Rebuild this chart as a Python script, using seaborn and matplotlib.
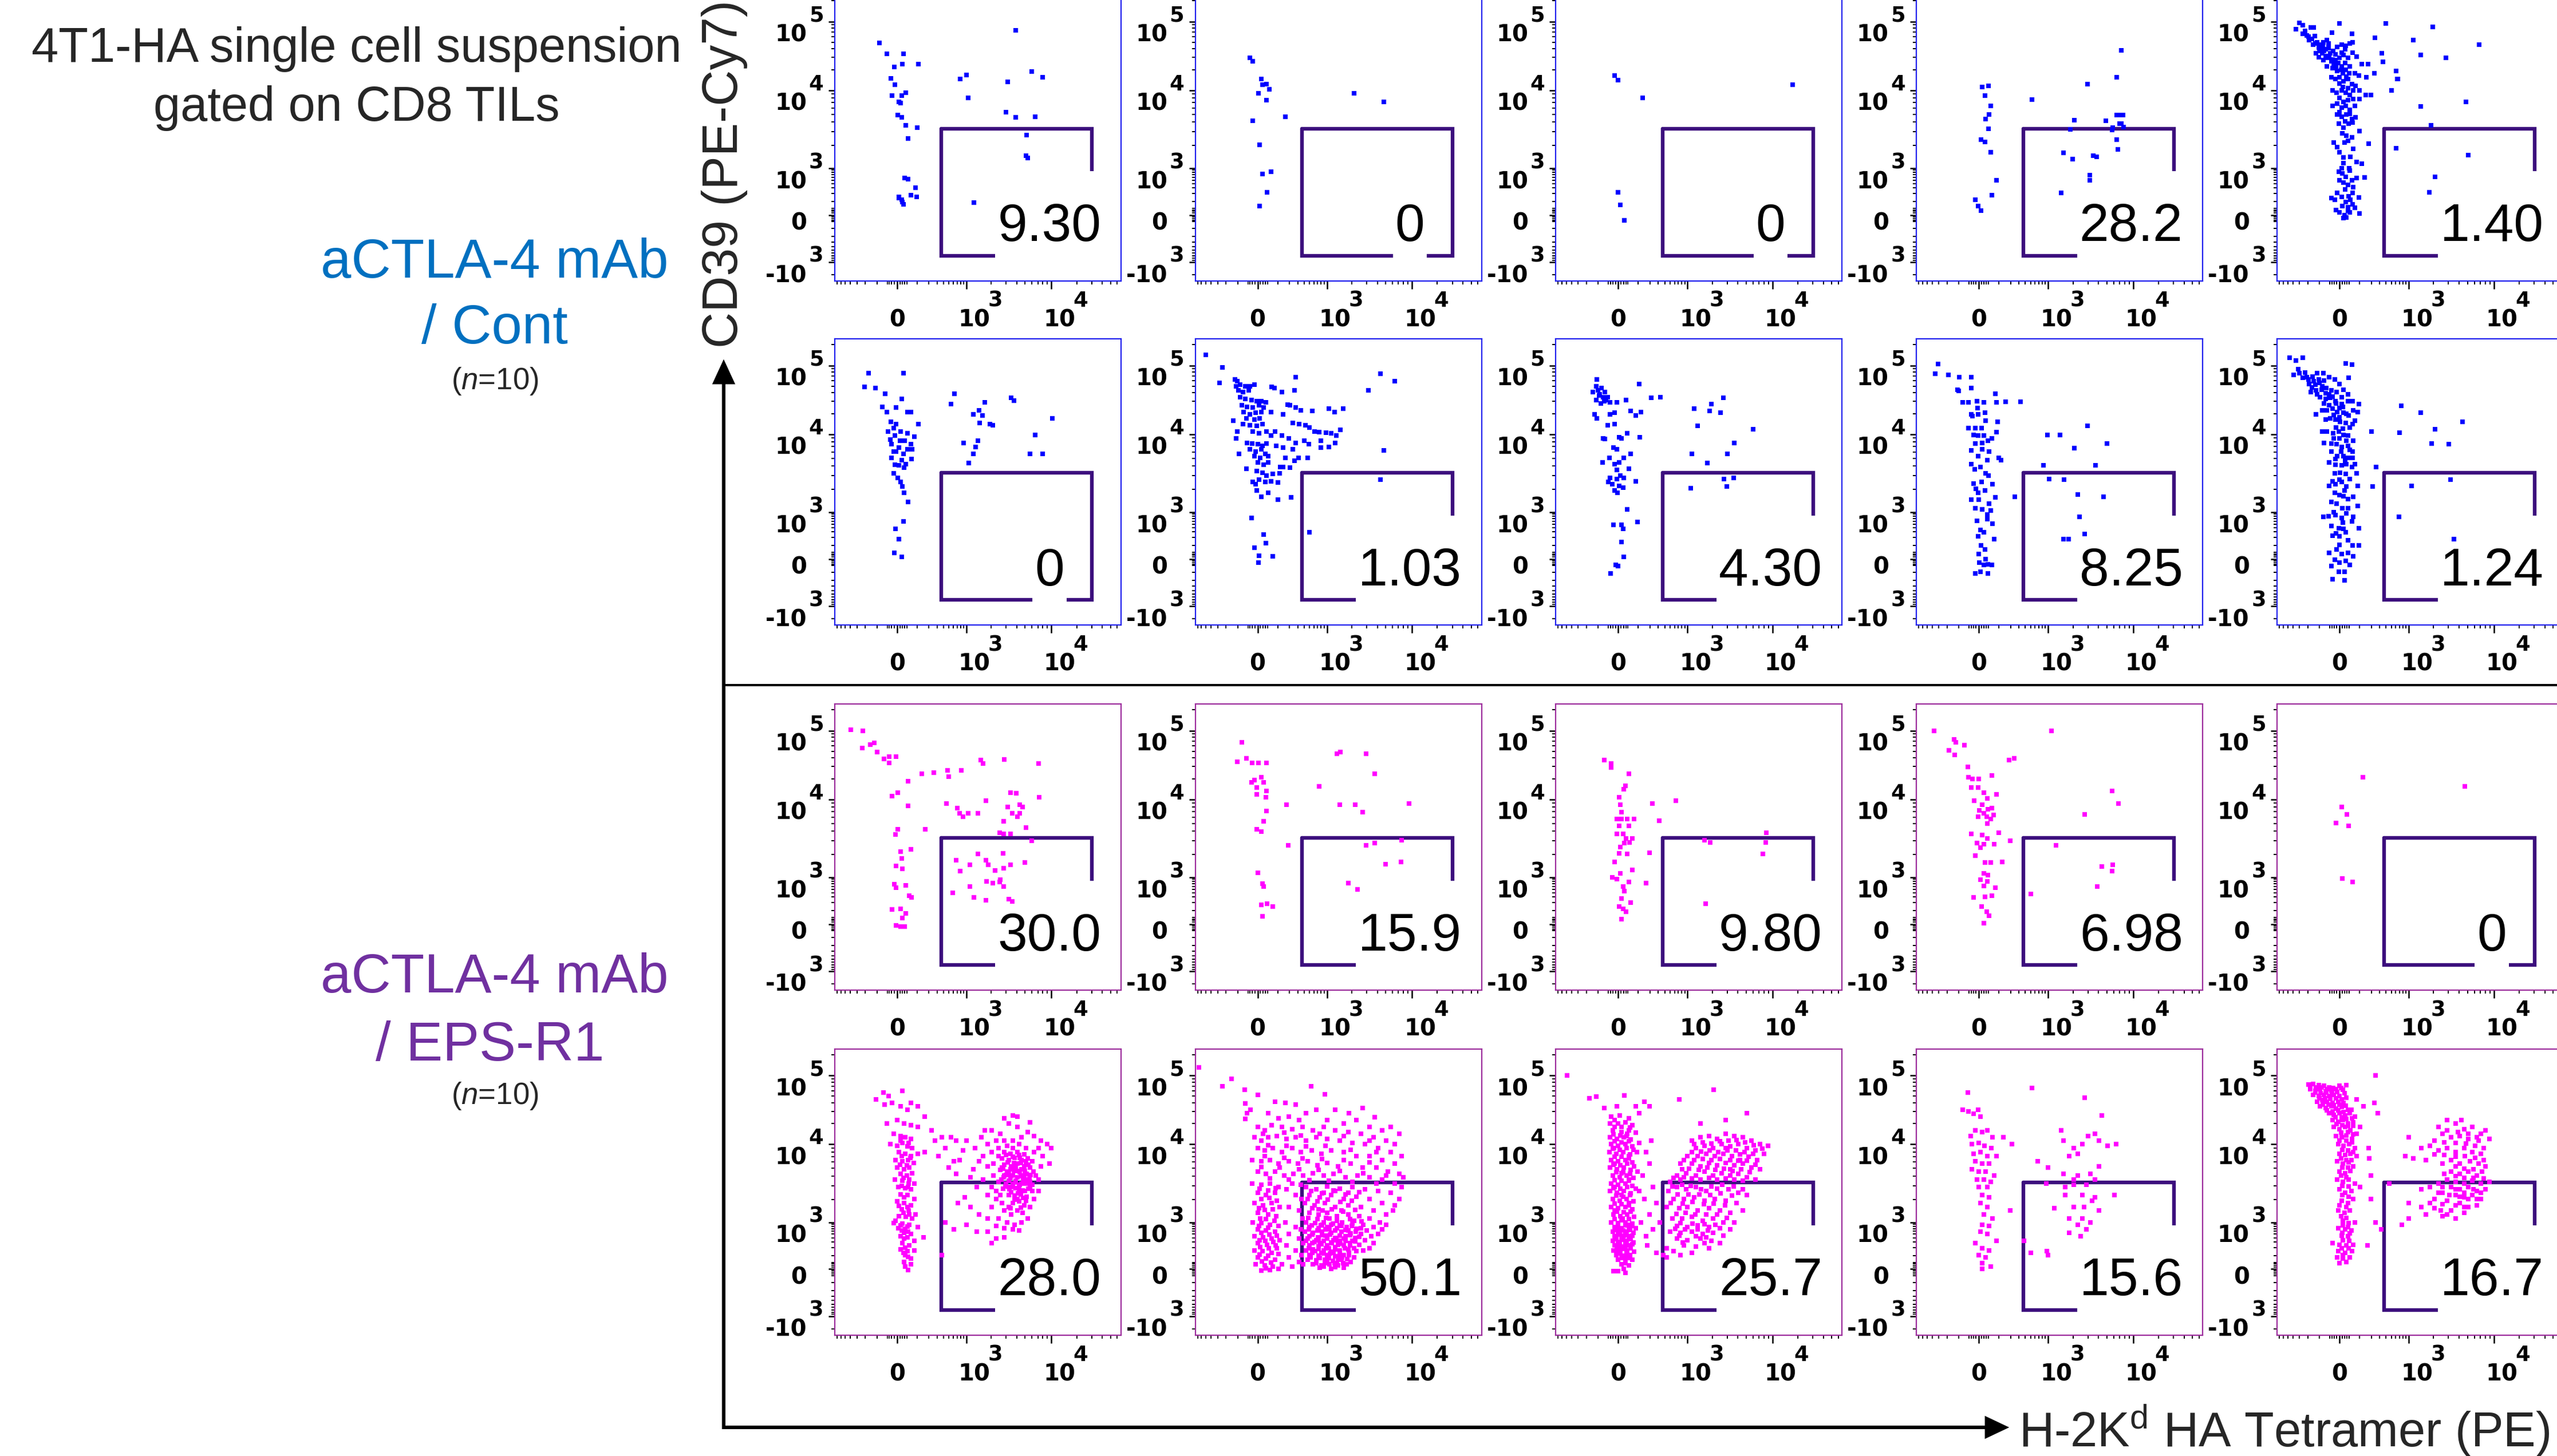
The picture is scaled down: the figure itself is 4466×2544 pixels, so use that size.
import numpy as np
import pandas as pd
import matplotlib
matplotlib.use("Agg")
from matplotlib import pyplot as plt
from matplotlib.patches import Rectangle, Polygon
from matplotlib.transforms import blended_transform_factory, offset_copy
import seaborn as sns


# ---- Data --------------------------------------------------------------------
# One entry per event: (H-2Kd HA tetramer, CD39), read in display decades of the
# biexponential axes: 0 = zero, 1 = 10^3, 2 = 10^4, 3 = 10^5, -1 = -10^3.

ctrl_1 = [(-0.25,2.69),(-0.15,2.53),(0.09,2.53),(-0.04,2.34),(0.08,2.38),(0.31,2.38),(-0.09,2.17),(-0.03,2.08),(-0.07,1.93),(0.07,1.93),(0.13,1.97),(0.03,1.85),(0.05,1.84),(0.01,1.68),(0.07,1.65),(0.13,1.55),(0.29,1.52),(0.16,1.38),(0.11,0.79),(0.16,0.77),(0.27,0.58),(0.2,0.42),(0.28,0.39),(0.03,0.39),(0.07,0.33),(0.09,0.23),(0.08,0.28),(0.03,0.36),(1.58,2.87),(0.91,2.16),(1.0,2.22),(1.02,1.90),(1.49,2.12),(1.77,2.27),(1.9,2.19),(1.47,1.72),(1.58,1.65),(1.81,1.66),(1.71,1.43),(1.7,1.16),(1.72,1.13),(1.09,0.26)]

ctrl_2 = [(-0.11,2.47),(-0.07,2.42),(0.05,2.16),(0.13,2.09),(0.17,2.01),(0.07,2.08),(0.01,1.96),(0.13,1.87),(0.4,1.66),(-0.07,1.61),(0.03,1.30),(0.19,0.93),(0.07,0.88),(0.14,0.48),(0.03,0.19),(1.32,1.96),(1.67,1.85)]

ctrl_3 = [(-0.05,2.21),(0.0,2.15),(0.35,1.90),(2.24,2.08),(0.0,0.48),(0.03,0.21),(0.09,-0.11)]

ctrl_4 = [(0.05,2.05),(0.14,2.06),(0.09,1.93),(0.17,1.80),(0.15,1.69),(0.1,1.63),(0.14,1.51),(0.03,1.37),(0.09,1.34),(0.17,1.21),(0.25,0.75),(0.19,0.43),(-0.05,0.33),(-0.01,0.19),(0.03,0.09),(0.77,1.88),(1.31,1.62),(1.26,1.50),(1.46,2.09),(1.81,2.19),(1.86,2.58),(1.68,1.61),(1.75,1.49),(1.81,1.68),(1.85,1.68),(1.88,1.68),(1.84,1.57),(1.86,1.57),(1.81,1.37),(1.82,1.24),(1.18,1.20),(1.29,1.12),(1.53,1.16),(1.57,1.15),(1.49,0.86),(1.49,0.75),(1.15,0.47),(1.89,1.53),(1.76,1.52)]

ctrl_5 = [(-0.63,2.89),(-0.58,2.98),(-0.53,2.95),(-0.47,2.80),(-0.53,2.82),(-0.41,2.91),(-0.37,2.91),(-0.36,2.79),(-0.44,2.73),(-0.38,2.66),(-0.32,2.70),(-0.28,2.66),(-0.23,2.70),(-0.18,2.73),(-0.11,2.84),(0.0,2.97),(0.18,2.82),(-0.34,2.54),(-0.29,2.57),(-0.25,2.54),(-0.2,2.60),(-0.16,2.61),(-0.13,2.54),(-0.09,2.57),(-0.03,2.63),(0.03,2.66),(0.09,2.65),(0.15,2.68),(0.19,2.70),(-0.23,2.44),(-0.18,2.47),(-0.12,2.42),(-0.06,2.44),(0.0,2.47),(0.06,2.51),(0.12,2.47),(0.19,2.55),(0.25,2.49),(0.32,2.38),(0.41,2.38),(-0.18,2.35),(-0.1,2.32),(-0.03,2.28),(0.03,2.35),(0.09,2.30),(0.15,2.35),(0.22,2.25),(0.28,2.21),(0.39,2.19),(0.5,2.25),(0.61,2.54),(0.63,2.41),(0.67,2.97),(0.51,2.76),(0.82,2.28),(0.83,2.16),(-0.12,2.19),(-0.06,2.16),(0.0,2.19),(0.06,2.13),(0.12,2.16),(0.18,2.09),(0.23,2.06),(0.29,2.0),(0.38,1.94),(0.45,1.94),(-0.1,2.0),(-0.04,1.97),(0.03,2.0),(0.09,1.97),(0.15,1.94),(0.2,1.89),(0.29,1.89),(-0.1,1.80),(-0.03,1.83),(0.03,1.78),(0.09,1.80),(0.15,1.75),(0.22,1.80),(-0.03,1.69),(0.03,1.66),(0.1,1.69),(0.18,1.63),(0.23,1.65),(-0.01,1.57),(0.06,1.52),(0.13,1.57),(0.19,1.59),(0.29,1.48),(-0.08,1.33),(-0.03,1.27),(0.07,1.33),(0.12,1.35),(0.18,1.40),(0.42,1.32),(0.0,1.21),(0.06,1.14),(0.16,1.15),(0.25,1.08),(0.32,1.06),(0.06,1.07),(-0.01,0.93),(0.04,0.89),(0.09,0.82),(0.15,0.95),(0.25,0.79),(0.36,0.81),(0.0,0.75),(0.06,0.70),(0.12,0.65),(0.18,0.75),(0.19,0.47),(-0.03,0.47),(-0.12,0.36),(-0.07,0.33),(0.03,0.39),(0.09,0.28),(0.16,0.33),(0.28,0.37),(0.04,0.19),(0.12,0.17),(0.19,0.23),(0.0,0.05),(0.07,0.0),(0.12,0.09),(0.29,0.03),(0.06,-0.07),(0.1,-0.05),
          (0.75,2.0),(0.84,2.16),(1.05,2.73),(1.14,1.79),(1.14,2.51),(1.28,2.92),(1.44,2.47),(1.83,2.66),(1.67,1.85),(1.26,1.55),(0.82,1.26),(1.31,0.82),(1.24,0.48),(1.70,1.17),
          (-0.5,2.86),(-0.45,2.78),(-0.4,2.75),(-0.35,2.68),(-0.3,2.62),(-0.27,2.58),(-0.22,2.57),(-0.2,2.5),(-0.15,2.48),(-0.1,2.45),(-0.08,2.38),(-0.05,2.35),(-0.02,2.4),(0.02,2.3),(0.05,2.25),(0.08,2.4),(0.1,2.2),(0.14,2.25),(0.0,2.1),(0.05,2.05),(0.12,2.03),(0.2,2.0),(0.0,1.9),(0.06,1.85),(0.12,1.87),(0.0,1.72),(0.08,1.6),(0.15,1.7),(0.04,1.45),(0.1,1.42),(0.2,1.25),(0.03,1.0),(0.14,1.0),(0.2,0.6),(0.08,0.55),(0.13,0.4),(0.22,0.15),(-0.05,0.1),(0.15,0.05),(-0.3,2.48),(-0.24,2.64),(-0.16,2.68),(-0.06,2.52),(0.03,2.55),(0.08,2.6)]

ctrl_6 = [(-0.41,2.89),(0.09,2.89),(-0.47,2.69),(-0.31,2.67),(-0.17,2.59),(0.07,2.51),(-0.21,2.40),(-0.01,2.39),(-0.15,2.32),(0.15,2.32),(0.20,2.32),(0.78,2.44),(0.83,2.59),(1.22,2.46),(1.15,2.35),(1.08,2.29),(1.19,2.27),(1.16,2.16),(1.28,2.15),(1.31,2.13),(1.53,2.53),(1.56,2.49),(2.01,2.23),(1.81,1.99),(1.75,1.75),(1.90,1.75),(0.96,1.89),(1.14,1.92),(1.11,1.84),(1.08,1.75),(1.03,1.63),(-0.09,2.18),(-0.01,2.15),(-0.05,2.09),(-0.13,2.04),(0.05,2.04),(0.15,2.01),(0.25,1.97),(-0.03,1.98),(0.04,1.92),(0.11,1.92),(-0.08,1.87),(0.2,1.87),(0.03,1.83),(0.15,1.81),(0.22,1.81),(-0.01,1.78),(0.09,1.75),(0.21,1.68),(-0.08,1.70),(-0.03,1.61),(0.03,1.60),(0.1,1.57),(-0.05,1.50),(0.01,1.44),(0.05,1.39),(0.08,1.33),(0.1,1.25),(0.16,1.13),(0.09,0.80),(-0.02,0.64),(0.03,0.43),(-0.04,0.13),(0.07,0.04),(0.31,2.15),(-0.1,1.93),(-0.05,1.78),(0.07,1.67),(0.13,1.62)]

ctrl_7 = [(-0.75,3.15),(-0.51,2.97),(-0.55,2.75),(-0.33,2.80),(-0.29,2.77),(-0.31,2.70),(-0.25,2.72),(-0.18,2.70),(-0.11,2.70),(-0.05,2.72),(-0.28,2.64),(-0.21,2.61),(-0.13,2.64),(0.2,2.69),(0.24,2.67),(0.35,2.61),(0.55,2.83),(0.53,2.64),(1.63,2.88),(1.8,2.77),(1.49,2.64),(-0.25,2.54),(-0.18,2.51),(-0.09,2.50),(-0.01,2.48),(0.05,2.48),(0.12,2.46),(-0.23,2.42),(-0.15,2.40),(-0.07,2.39),(0.02,2.42),(0.09,2.39),(-0.2,2.32),(-0.11,2.29),(-0.03,2.31),(0.05,2.32),(-0.16,2.23),(-0.05,2.21),(0.03,2.23),(-0.21,2.15),(-0.11,2.13),(-0.01,2.12),(0.07,2.15),(0.13,2.04),(0.19,1.98),(-0.07,2.04),(0.02,2.01),(-0.15,1.89),(-0.08,1.88),(0.0,1.87),(0.07,1.85),(0.13,1.88),(-0.11,1.81),(-0.03,1.78),(0.05,1.81),(0.11,1.75),(-0.05,1.72),(0.04,1.70),(0.15,1.72),(0.0,1.64),(0.09,1.61),(0.15,1.64),(-0.01,1.53),(0.07,1.51),(0.13,1.47),(0.22,1.49),(0.02,1.42),(0.11,1.39),(0.19,1.40),(-0.03,1.36),(0.32,1.50),(0.29,1.38),(0.37,1.58),(0.47,1.57),(0.29,1.16),(0.48,1.19),(0.33,1.58),(0.19,2.32),(0.37,2.29),(0.43,2.43),(0.47,2.42),(0.55,2.39),(0.62,2.35),(0.79,2.34),(1.02,2.37),(1.09,2.32),(1.19,2.37),(0.51,2.16),(0.6,2.15),(0.69,2.13),(0.75,2.10),(0.82,2.04),(0.89,2.03),(0.99,2.02),(1.05,2.01),(1.11,1.98),(1.16,2.06),(0.25,2.04),(0.35,1.98),(0.45,1.95),(0.55,1.89),(0.67,1.92),(0.74,1.87),(0.91,1.92),(1.02,1.84),(1.1,1.89),(0.27,1.85),(0.37,1.83),(0.51,1.81),(0.59,1.70),(0.72,1.70),(0.91,1.83),(0.53,1.66),(0.4,1.70),(-0.09,0.88),(0.09,0.52),(-0.05,0.24),(0.12,0.34),(0.02,0.07),(0.22,0.06),(0.01,-0.08),(0.75,0.57),(1.63,1.42),(1.67,1.79),(-0.35,2.2),(-0.29,2.04),(-0.31,1.95),(-0.27,1.75),(-0.16,1.56),(-0.07,1.39),(-0.01,1.28),(0.05,1.20),(0.15,1.25)]

ctrl_8 = [(-0.31,2.80),(-0.32,2.70),(-0.37,2.61),(-0.29,2.64),(-0.24,2.67),(-0.19,2.61),(-0.27,2.58),(-0.22,2.54),(-0.32,2.50),(-0.15,2.54),(-0.2,2.48),(-0.12,2.46),(-0.02,2.46),(0.11,2.50),(0.3,2.73),(0.48,2.53),(0.61,2.54),(-0.34,2.29),(-0.31,2.23),(-0.12,2.29),(-0.05,2.31),(0.18,2.34),(0.25,2.27),(0.33,2.32),(-0.15,2.13),(-0.05,2.15),(-0.22,1.95),(-0.19,1.94),(0.01,1.96),(0.05,1.95),(0.13,2.01),(0.31,1.96),(-0.07,1.83),(-0.02,1.81),(-0.13,1.70),(0.08,1.70),(-0.23,1.64),(-0.05,1.62),(0.01,1.64),(0.18,1.75),(-0.02,1.54),(0.15,1.56),(-0.12,1.44),(-0.02,1.43),(0.03,1.47),(0.08,1.44),(-0.14,1.39),(-0.09,1.36),(0.01,1.34),(0.07,1.32),(-0.05,1.28),(-0.01,1.25),(0.25,1.40),(0.13,1.04),(-0.07,0.73),(0.05,0.73),(0.07,0.64),(0.05,0.36),(0.08,0.04),(-0.04,-0.13),(0.0,-0.15),(-0.11,-0.31),(0.28,0.79),(-0.28,2.56),(-0.18,2.50),(-0.25,2.45),
          (1.08,2.37),(1.12,2.12),(1.26,2.34),(1.28,2.44),(1.42,2.53),(1.39,2.31),(1.77,2.07),(1.55,1.89),(1.47,1.75),(1.05,1.75),(1.23,1.63),(1.04,1.31),(1.43,1.43),(1.54,1.44),(1.46,1.33)]

ctrl_9 = [(-0.59,3.02),(-0.63,2.88),(-0.44,2.86),(-0.28,2.83),(-0.11,2.83),(-0.31,2.65),(-0.29,2.63),(-0.11,2.67),(-0.23,2.46),(-0.15,2.46),(-0.03,2.48),(0.07,2.46),(0.24,2.59),(0.25,2.46),(0.39,2.47),(0.6,2.47),(-0.11,2.29),(-0.09,2.26),(-0.01,2.29),(0.09,2.31),(0.27,2.18),(-0.15,2.09),(-0.05,2.09),(0.04,2.09),(0.25,2.03),(-0.08,1.99),(-0.01,1.98),(0.07,1.98),(0.19,1.95),(-0.05,1.88),(0.05,1.89),(0.13,1.92),(-0.11,1.79),(0.05,1.81),(0.15,1.78),(-0.01,1.72),(0.12,1.67),(0.29,1.70),(0.32,1.67),(-0.11,1.62),(0.02,1.58),(0.14,1.47),(-0.08,1.37),(0.04,1.39),(0.2,1.36),(-0.01,1.25),(0.09,1.28),(-0.11,1.16),(0.0,1.16),(0.15,1.11),(0.24,1.19),(-0.05,1.05),(0.05,1.04),(0.17,1.02),(-0.03,0.82),(0.12,0.85),(0.2,0.76),(0.02,0.62),(0.07,0.57),(-0.01,0.48),(0.22,0.43),(0.03,0.29),(0.09,0.2),(0.01,-0.08),(0.07,-0.13),(0.13,-0.11),(0.19,-0.13),(-0.05,-0.31),(0.02,-0.27),(0.13,-0.31),(-0.02,2.38),(0.1,2.2),(-0.06,1.55),(0.1,1.5),(-0.04,1.3),(0.12,0.95),(0.0,0.1),(0.1,0.0),
          (0.99,1.99),(1.14,1.99),(1.46,2.12),(1.31,1.82),(1.69,1.88),(0.93,1.6),(1.56,1.6),(1.01,1.43),(1.19,1.42),(0.52,1.2),(1.35,1.23),(1.65,1.2),(1.37,0.9),(1.18,0.43),(1.24,0.43),(1.43,0.54)]

ctrl_10 = [(-0.72,3.11),(-0.63,3.07),(-0.53,3.11),(-0.66,2.86),(-0.58,2.89),(-0.53,2.82),(-0.47,2.83),(-0.39,2.84),(-0.32,2.89),(-0.23,2.89),(-0.44,2.73),(-0.37,2.77),(-0.29,2.75),(-0.22,2.78),(-0.15,2.83),(-0.07,2.80),(0.0,2.73),(0.06,2.65),(0.09,3.03),(0.18,3.01),(0.13,2.82),(-0.41,2.61),(-0.34,2.64),(-0.26,2.65),(-0.19,2.67),(-0.12,2.64),(-0.04,2.61),(0.03,2.54),(-0.28,2.54),(-0.2,2.51),(-0.13,2.53),(-0.06,2.48),(0.03,2.44),(0.12,2.48),(0.19,2.48),(0.28,2.44),(0.2,2.35),(0.26,2.32),(-0.34,2.29),(-0.25,2.35),(-0.18,2.35),(-0.1,2.37),(-0.03,2.32),(0.06,2.31),(0.13,2.27),(-0.2,2.21),(-0.13,2.23),(-0.06,2.21),(0.01,2.18),(0.09,2.16),(0.19,2.15),(-0.25,2.04),(-0.18,2.04),(-0.09,2.01),(-0.01,2.04),(0.06,1.99),(0.12,1.98),(0.2,1.92),(-0.22,1.89),(-0.12,1.88),(-0.04,1.87),(0.03,1.84),(0.12,1.85),(0.19,1.78),(-0.12,1.78),(-0.03,1.72),(0.06,1.72),(0.12,1.70),(0.19,1.70),(-0.15,1.64),(-0.06,1.61),(0.03,1.60),(0.1,1.62),(0.18,1.58),(-0.07,1.50),(0.01,1.51),(0.09,1.49),(0.25,1.50),(-0.15,1.34),(-0.06,1.36),(0.03,1.39),(0.1,1.33),(0.26,1.34),(-0.07,1.25),(0.0,1.22),(0.06,1.21),(0.12,1.17),(-0.12,1.13),(-0.04,1.11),(0.04,1.05),(0.12,1.05),(0.26,1.08),(-0.23,0.90),(-0.16,0.92),(-0.06,0.94),(0.03,0.88),(-0.12,0.71),(-0.01,0.66),(0.06,0.64),(0.18,0.80),(0.28,0.66),(-0.1,0.50),(0.0,0.48),(0.09,0.57),(0.19,0.29),(0.28,0.29),(-0.15,0.13),(-0.04,0.20),(0.03,0.10),(0.12,0.13),(-0.07,-0.02),(0.0,-0.08),(0.09,-0.04),(0.15,-0.13),(-0.01,-0.27),(0.07,-0.27),(-0.1,-0.43),(0.07,-0.45),
           (0.46,2.04),(0.53,1.58),(0.48,1.33),(0.87,2.02),(0.89,2.41),(1.14,2.31),(1.31,2.07),(1.27,1.88),(1.47,1.87),(1.63,2.18),(1.03,1.34),(1.49,1.42),(0.86,0.91),(1.53,0.43),
           (-0.6,2.95),(-0.5,2.9),(-0.45,2.8),(-0.35,2.72),(-0.3,2.8),(-0.25,2.7),(-0.2,2.6),(-0.15,2.58),(-0.1,2.55),(-0.05,2.45),(0.0,2.38),(0.05,2.4),(0.1,2.3),(-0.08,2.28),(0.0,2.25),(0.15,2.1),(-0.05,2.1),(0.05,2.08),(0.0,1.95),(0.1,1.92),(-0.08,1.95),(0.15,1.8),(0.02,1.78),(-0.06,1.68),(0.08,1.66),(0.22,1.62),(0.0,1.42),(0.15,1.43),(-0.1,1.4),(0.07,1.28),(0.2,1.2),(-0.08,1.0),(0.1,0.98),(0.2,0.9),(0.05,0.78),(-0.05,0.55),(0.12,0.4),(0.0,0.3),(0.2,0.05),(-0.12,-0.15),(-0.4,2.68),(-0.32,2.58),(-0.22,2.45),(-0.15,2.42),(0.12,2.58),(0.22,2.2)]

eps_1 = [(-0.67,3.01),(-0.49,3.0),(-0.5,2.75),(-0.39,2.8),(-0.33,2.82),(-0.29,2.69),(-0.19,2.59),(-0.11,2.53),(-0.11,2.62),(-0.01,2.62),(-0.07,2.05),(0.01,2.10),(0.16,2.26),(0.36,2.37),(0.53,2.39),(0.73,2.42),(0.75,2.33),(0.93,2.42),(0.71,1.95),(0.87,1.89),(0.9,1.82),(0.95,1.78),(1.02,1.82),(1.14,1.82),(1.23,1.98),(1.17,2.57),(1.2,2.52),(1.45,2.58),(1.85,2.52),(1.86,2.03),(1.52,2.10),(1.59,2.09),(1.63,1.93),(1.66,1.90),(1.49,1.90),(1.44,1.72),(1.54,1.82),(1.6,1.78),(1.63,1.82),(1.7,1.64),(1.77,1.47),(0.16,1.92),(0.01,1.62),(-0.02,1.55),(0.41,1.62),(0.05,1.33),(0.07,1.24),(0.08,1.11),(0.2,1.36),(-0.04,0.85),(-0.01,0.78),(0.13,0.83),(0.18,0.61),(0.21,0.57),(-0.07,0.31),(0.05,0.33),(0.13,0.23),(0.08,0.13),(-0.01,-0.03),(0.05,-0.05),(0.11,-0.05),(-0.01,1.15),
         (0.85,1.22),(1.04,1.16),(1.14,1.30),(1.23,1.22),(1.26,1.16),(1.04,0.80),(1.09,0.57),(1.24,0.92),(1.31,0.88),(1.23,0.51),(1.39,0.90),(1.44,0.80),(1.43,1.31),(1.44,1.12),(1.52,1.16),(1.69,1.19),(1.5,0.54),(1.54,0.49),(0.8,0.67),(0.91,1.08),(1.34,1.09),(1.4,0.95),(1.44,1.56),(1.52,1.56),(1.39,1.57)]

eps_2 = [(-0.23,2.83),(-0.29,2.55),(-0.16,2.60),(-0.08,2.53),(0.01,2.53),(0.13,2.53),(0.05,2.32),(-0.05,2.28),(-0.09,2.25),(0.09,2.25),(-0.01,2.17),(0.13,2.12),(-0.01,2.07),(0.12,2.03),(0.13,1.85),(0.09,1.72),(-0.01,1.62),(0.05,1.59),(0.42,1.93),(0.44,1.41),(0.89,2.19),(1.12,2.66),(1.16,2.69),(1.46,2.66),(1.56,2.37),(1.15,1.93),(1.33,1.93),(1.42,1.84),(1.97,1.95),(1.46,1.41),(1.56,1.44),(1.88,1.48),(1.69,1.17),(1.87,1.20),(0.0,1.06),(0.07,0.87),(0.09,0.80),(0.05,0.41),(0.14,0.44),(0.22,0.38),(0.07,0.16),(1.25,0.88),(1.36,0.75)]

eps_3 = [(-0.2,2.57),(-0.1,2.52),(-0.1,2.46),(0.15,2.37),(0.08,2.15),(0.01,2.03),(0.03,1.93),(0.05,1.84),(-0.02,1.75),(0.05,1.75),(0.13,1.75),(0.23,1.75),(0.01,1.66),(0.15,1.66),(-0.02,1.56),(0.07,1.56),(0.11,1.50),(0.2,1.50),(0.03,1.39),(0.09,1.44),(0.16,1.45),(0.01,1.31),(0.13,1.30),(0.2,1.10),(-0.09,1.0),(-0.02,0.97),(0.03,1.05),(0.07,0.80),(0.09,0.71),(0.18,0.46),(0.01,0.38),(0.07,0.33),(0.11,0.26),(0.05,0.10),(0.49,1.95),(0.59,1.73),(0.45,1.32),(0.4,0.88),(0.83,1.98),(1.2,1.48),(1.27,1.45),(1.93,1.57),(1.92,1.45),(1.89,1.30),(1.21,0.44),(0.1,2.2),(-0.05,1.2),(0.15,0.9),(0.05,0.55)]

eps_4 = [(-0.65,3.0),(-0.36,2.87),(-0.33,2.83),(-0.21,2.79),(-0.43,2.71),(-0.35,2.65),(-0.16,2.47),(-0.15,2.32),(-0.09,2.30),(0.0,2.30),(0.19,2.35),(0.44,2.57),(0.51,2.60),(-0.11,2.17),(-0.01,2.17),(0.07,2.10),(0.25,2.07),(0.12,2.01),(-0.07,1.98),(0.05,1.93),(0.01,1.86),(0.13,1.87),(0.19,1.89),(0.07,1.82),(0.21,1.80),(0.11,1.78),(-0.01,1.78),(0.17,1.75),(0.12,1.69),(-0.11,1.56),(0.05,1.54),(0.29,1.57),(0.12,1.50),(0.45,1.47),(-0.03,1.44),(0.07,1.43),(0.22,1.43),(0.02,1.38),(0.34,1.20),(0.09,1.19),(0.17,1.19),(-0.05,1.28),(0.07,1.05),(0.13,1.03),(0.02,0.95),(0.12,0.92),(0.24,0.78),(0.07,0.82),(-0.08,0.57),(0.09,0.59),(0.19,0.61),(0.04,0.38),(0.11,0.26),(0.15,0.18),(0.07,0.02),
         (1.04,3.0),(1.75,2.12),(1.83,1.95),(1.43,1.81),(1.09,1.41),(1.63,1.14),(1.76,1.16),(1.75,1.08),(1.58,0.80),(0.75,0.64)]

eps_5 = [(0.34,2.32),(1.66,2.19),(0.03,1.9),(0.11,1.81),(-0.05,1.70),(0.13,1.66),(0.04,0.98),(0.19,0.90)]

eps_6 = [(-0.2,2.75),(-0.12,2.7),(0.08,2.78),(-0.07,2.6),(0.05,2.55),(0.15,2.5),(0.2,2.6),(-0.15,2.3),(0.0,2.35),(0.1,2.3),(0.2,2.28),(0.3,2.25),(-0.05,2.15),(0.05,2.12),(0.12,2.1),(0.2,2.08),(-0.1,2.0),(0.0,1.98),(0.08,2.02),(0.15,1.97),(0.22,1.95),(0.03,1.9),(0.12,1.88),(0.2,1.85),(-0.02,1.8),(0.08,1.78),(0.16,1.8),(0.24,1.76),(0.0,1.7),(0.1,1.68),(0.18,1.7),(0.05,1.62),(0.14,1.6),(0.22,1.63),(-0.03,1.55),(0.08,1.53),(0.17,1.5),(0.02,1.45),(0.12,1.44),(0.2,1.42),(0.05,1.36),(0.15,1.35),(0.25,1.3),(0.0,1.27),(0.1,1.25),(0.2,1.22),(0.07,1.17),(0.17,1.15),(0.03,1.08),(0.13,1.07),(0.22,1.05),(-0.05,0.98),(0.08,0.97),(0.18,0.95),(0.3,0.9),(0.02,0.88),(0.12,0.86),(0.1,0.78),(0.2,0.75),(0.05,0.7),(0.15,0.68),(0.25,0.6),(0.38,0.68),(0.08,0.55),(0.18,0.5),(0.05,0.42),(0.15,0.38),(0.25,0.4),(0.12,0.3),(0.2,0.22),(0.1,0.15),(0.2,0.1),(0.12,0.05),(0.16,-0.02),(-0.02,1.02),(0.27,1.1),(0.25,1.5),(0.3,1.88),
         (-0.3,2.65),(-0.18,2.58),(0.4,2.4),(0.3,2.55),(0.5,2.2),(0.55,2.05),(0.4,1.9),(0.6,1.85),(0.7,1.95),(0.65,2.1),(0.78,2.1),(0.85,2.05),(0.9,1.8),(0.95,1.92),(1.0,2.05),(0.75,1.7),(0.85,1.62),(0.82,1.78),
         (1.45,1.9),(1.52,1.88),(1.6,1.9),(1.68,1.87),(1.42,1.82),(1.5,1.8),(1.57,1.83),(1.65,1.8),(1.72,1.82),(1.78,1.78),(1.45,1.74),(1.53,1.72),(1.6,1.75),(1.68,1.72),(1.75,1.7),(1.4,1.67),(1.48,1.65),(1.56,1.66),(1.63,1.64),(1.71,1.62),(1.79,1.65),(1.44,1.58),(1.52,1.57),(1.6,1.58),(1.67,1.55),(1.74,1.57),(1.38,1.52),(1.47,1.5),(1.55,1.5),(1.63,1.48),(1.7,1.5),(1.78,1.48),(1.43,1.43),(1.51,1.42),(1.58,1.44),(1.66,1.41),(1.73,1.43),(1.5,1.35),(1.57,1.34),(1.64,1.36),(1.71,1.33),(1.55,1.25),(1.62,1.27),(1.68,1.22),(1.6,1.15),(1.66,1.12),(1.53,1.1),
         (1.3,2.2),(1.4,2.15),(1.5,2.3),(1.6,2.25),(1.55,2.42),(1.65,2.1),(1.72,2.18),(1.8,2.12),(1.88,2.05),(1.95,2.0),(1.85,1.95),(1.9,1.85),(1.82,1.6),(1.88,1.72),(1.85,1.4),(1.8,1.3),(1.75,1.2),(1.35,2.05),(1.25,2.0),(1.3,1.9),(1.38,1.95),(1.2,1.85),(1.15,1.78),(1.1,1.95),(1.25,1.72),(1.32,1.6),(1.2,1.55),(1.3,1.45),(1.12,1.45),(1.25,1.35),(1.35,1.3),(1.42,1.25),(1.3,1.2),(1.45,1.15),(1.38,1.05),(1.48,1.0),(1.57,0.95),(1.65,1.0),(1.72,1.05),(1.55,0.85),(1.62,0.82),(1.45,0.88),(1.35,0.92),(1.25,1.05),(1.15,1.1),(1.05,1.2),(1.0,0.95),(1.12,0.8),(1.25,0.8),(1.35,0.65),(1.45,0.68),(1.3,0.55),(0.98,1.32),(1.05,1.58),(0.88,1.25),(0.82,0.85),(0.7,1.0),(0.65,0.3),(1.18,2.1),(1.45,2.05),(1.55,2.05),(1.62,2.0),(1.7,1.95),(1.48,1.98),(1.38,1.85),(1.32,1.75),(1.85,1.55),(1.8,1.9),(1.98,1.75),(2.0,1.95),(1.75,2.32),(1.6,2.4),(1.45,2.38),(1.22,2.2),(1.08,1.68),
         (1.42,1.7),(1.5,1.62),(1.58,1.7),(1.65,1.68),(1.7,1.76),(1.62,1.86),(1.55,1.95),(1.68,1.6),(1.58,1.53),(1.5,1.45),(1.62,1.42),(1.45,1.6),(1.75,1.52),(1.78,1.4),(1.35,1.4),(1.4,1.35),(1.6,1.3),(1.5,1.2),(1.7,1.28),(1.65,1.5),
         (1.47,1.86),(1.55,1.84),(1.63,1.83),(1.70,1.78),(1.49,1.77),(1.56,1.76),(1.64,1.76),(1.73,1.74),(1.43,1.69),(1.52,1.68),(1.60,1.66),(1.69,1.66),(1.76,1.61),(1.47,1.61),(1.55,1.60),(1.64,1.59),(1.71,1.55),(1.41,1.55),(1.50,1.53),(1.58,1.51),(1.67,1.52),(1.75,1.46),(1.46,1.46),(1.54,1.45),(1.62,1.46),(1.69,1.40),(1.53,1.39),(1.61,1.37),(1.67,1.31),(1.57,1.29),(1.64,1.19),(1.52,1.18),
         (0.05,2.05),(0.17,2.02),(0.07,1.85),(0.19,1.83),(0.04,1.74),(0.14,1.73),(0.09,1.57),(0.18,1.55),(0.07,1.47),(0.16,1.45),(0.1,1.32),(0.03,1.21),(0.15,1.2),(0.09,1.12),(0.18,1.1),(0.05,0.93),(0.15,0.91),(0.07,0.82),(0.16,0.8),(0.1,0.65),(0.12,0.46),(0.09,0.34),(0.16,0.26)]

eps_7 = [(-0.85,3.12),(-0.51,2.84),(-0.38,2.95),(-0.19,2.79),(-0.18,2.59),(-0.15,2.45),(-0.18,2.37),(-0.1,2.5),(0.0,2.72),(0.25,2.62),(0.4,2.6),(0.55,2.58),(0.77,2.84),(0.97,2.73),(1.42,2.53),(1.56,2.39),(1.26,2.45),(1.1,2.5),(0.85,2.5),(0.7,2.45),(0.6,2.35),(0.45,2.4),(0.3,2.38),(0.15,2.45),(1.0,2.35),(1.2,2.3),(1.35,2.35),(1.5,2.25),(1.65,2.2),(1.75,2.25),(1.85,2.15),
         (0.0,2.25),(0.1,2.2),(0.2,2.28),(0.35,2.25),(0.5,2.22),(0.65,2.25),(0.8,2.2),(0.95,2.25),(1.1,2.2),(1.25,2.18),(1.4,2.15),(1.55,2.1),(1.7,2.05),(1.8,2.0),
         (-0.05,2.1),(0.05,2.05),(0.15,2.1),(0.28,2.12),(0.42,2.08),(0.55,2.1),(0.7,2.05),(0.85,2.1),(1.0,2.08),(1.15,2.05),(1.3,2.02),(1.45,2.0),(1.6,1.95),(1.75,1.9),(1.88,1.85),
         (0.0,1.95),(0.1,1.92),(0.22,1.95),(0.35,1.9),(0.5,1.95),(0.62,1.9),(0.78,1.92),(0.92,1.88),(1.05,1.92),(1.2,1.9),(1.35,1.85),(1.5,1.85),(1.65,1.8),(1.8,1.75),
         (-0.08,1.8),(0.05,1.78),(0.18,1.8),(0.3,1.75),(0.45,1.78),(0.58,1.75),(0.72,1.78),(0.86,1.73),(1.0,1.76),(1.13,1.72),(1.28,1.75),(1.42,1.7),(1.58,1.7),(1.72,1.65),(1.85,1.62),
         (0.0,1.65),(0.12,1.62),(0.25,1.65),(0.38,1.6),(0.52,1.62),(0.66,1.6),(0.8,1.63),(0.95,1.6),(1.08,1.62),(1.22,1.58),(1.36,1.6),(1.5,1.58),(1.65,1.55),(1.8,1.5),(1.9,1.58),
         (-0.08,1.5),(0.05,1.48),(0.18,1.5),(0.3,1.45),(0.0,1.38),(0.12,1.35),(0.25,1.38),(-0.05,1.25),(0.08,1.22),(0.2,1.25),(0.32,1.2),(0.0,1.12),(0.15,1.1),(0.27,1.08),(-0.07,1.0),(0.05,0.98),(0.18,0.95),(0.3,0.92),(0.0,0.85),(0.12,0.82),(0.25,0.8),(-0.05,0.7),(0.08,0.68),(0.2,0.65),(0.32,0.62),(0.0,0.55),(0.14,0.52),(0.26,0.5),(-0.05,0.4),(0.07,0.38),(0.2,0.35),(0.3,0.32),(0.0,0.25),(0.12,0.22),(0.25,0.2),(-0.03,0.1),(0.1,0.08),(0.22,0.05),(0.35,0.1),(0.05,-0.03),(0.18,-0.02),(0.3,0.0),
         (0.42,1.42),(0.55,1.35),(0.45,1.2),(0.6,1.15),(0.4,1.0),(0.55,0.9),(0.45,0.75),(0.6,0.65),(0.42,0.5),(0.55,0.4),(0.45,0.25),(0.6,0.15),(0.5,0.05),(0.62,1.48),(0.5,1.5),
         (0.7,1.45),(0.85,1.42),(1.0,1.46),(1.15,1.43),(1.3,1.45),(1.45,1.42),(1.6,1.4),(1.75,1.38),
         (0.75,1.35),(0.9,1.32),(1.05,1.35),(1.2,1.3),(1.35,1.33),(1.5,1.3),(1.65,1.25),(1.8,1.22),
         (0.68,1.25),(0.82,1.22),(0.97,1.25),(1.1,1.2),(1.25,1.22),(1.4,1.2),(1.55,1.15),(1.7,1.1),
         (0.75,1.12),(0.88,1.1),(1.0,1.12),(1.12,1.08),(1.25,1.1),(1.38,1.08),(1.5,1.05),(1.62,1.0),
         (0.7,1.0),(0.83,0.98),(0.95,1.0),(1.07,0.97),(1.18,1.0),(1.3,0.97),(1.43,0.95),(1.55,0.9),
         (0.75,0.9),(0.88,0.88),(1.0,0.9),(1.12,0.87),(1.23,0.9),(1.35,0.86),(1.47,0.83),
         (0.68,0.8),(0.8,0.78),(0.93,0.8),(1.05,0.77),(1.17,0.8),(1.28,0.76),(1.4,0.75),(1.52,0.7),
         (0.75,0.7),(0.87,0.68),(1.0,0.7),(1.1,0.67),(1.22,0.7),(1.33,0.66),(1.45,0.62),
         (0.7,0.6),(0.82,0.58),(0.95,0.6),(1.05,0.57),(1.15,0.6),(1.27,0.56),(1.38,0.52),
         (0.75,0.5),(0.88,0.48),(1.0,0.5),(1.1,0.47),(1.2,0.5),(1.32,0.45),(1.43,0.4),
         (0.7,0.4),(0.83,0.38),(0.95,0.4),(1.05,0.37),(1.15,0.4),(1.26,0.35),
         (0.75,0.3),(0.88,0.28),(1.0,0.3),(1.1,0.27),(1.2,0.3),(1.32,0.25),
         (0.72,0.2),(0.85,0.18),(0.97,0.2),(1.07,0.17),(1.17,0.2),(1.28,0.15),
         (0.8,0.1),(0.92,0.08),(1.03,0.1),(1.13,0.07),(1.23,0.1),(0.9,0.02),(1.05,0.0),(1.2,0.02),
         (0.93,0.95),(1.03,0.85),(1.15,0.93),(1.25,0.82),(0.98,0.72),(1.08,0.62),(1.2,0.65),(0.9,0.55),(1.02,0.45),(1.13,0.52),(1.25,0.42),(0.95,0.33),(1.08,0.35),(1.18,0.25),(1.0,0.15),(1.12,0.12),(0.85,0.62),(0.8,0.42),(1.3,0.6),(1.4,0.88),(0.88,1.17),(1.03,1.05),(1.17,1.15),(1.32,1.02),(0.95,1.38),(1.1,1.4),(1.25,1.38),
         (1.65,0.85),(1.55,0.55),(1.6,0.75),(1.7,0.95),(1.78,1.15),(1.85,1.3),(1.88,1.45),(1.5,0.45),
         (0.63,1.3),(0.65,1.05),(0.62,0.85),(0.66,0.55),(0.63,0.3),(0.66,0.1),
         (0.77,1.40),(0.93,1.37),(1.08,1.41),(1.22,1.36),(1.38,1.39),(0.72,1.30),(0.86,1.27),(1.01,1.29),(1.16,1.26),(1.29,1.28),(0.79,1.18),(0.94,1.15),(1.06,1.17),(1.19,1.14),(1.33,1.16),(0.73,1.06),(0.86,1.04),(0.99,1.06),(1.12,1.02),(1.27,1.04),(1.41,1.01),(0.78,0.94),(0.91,0.93),(1.05,0.95),(1.17,0.92),(1.29,0.92),(0.74,0.85),(0.86,0.83),(0.98,0.85),(1.10,0.82),(1.22,0.84),(1.34,0.80),(0.79,0.74),(0.93,0.73),(1.04,0.74),(1.15,0.72),(1.27,0.73),(1.38,0.69),(0.72,0.65),(0.88,0.63),(1.00,0.65),(1.11,0.62),(1.22,0.61),(1.33,0.59),(0.79,0.55),(0.92,0.53),(1.06,0.55),(1.16,0.54),(1.27,0.50),(0.74,0.45),(0.88,0.43),(0.99,0.44),(1.10,0.42),(1.21,0.45),(1.35,0.38),(0.79,0.35),(0.92,0.34),(1.04,0.33),(1.15,0.32),(1.26,0.30),(0.76,0.25),(0.90,0.23),(1.02,0.24),(1.13,0.22),(1.24,0.21),(0.85,0.13),(0.97,0.12),(1.09,0.13),(1.19,0.12),(0.95,0.05),(1.10,0.04),
         (0.03,1.43),(0.15,1.41),(0.26,1.44),(0.05,1.30),(0.17,1.31),(0.28,1.28),(0.02,1.18),(0.1,1.16),(0.22,1.17),(0.04,1.05),(0.12,1.04),(0.24,1.02),(0.02,0.92),(0.15,0.89),(0.05,0.77),(0.17,0.74),(0.28,0.72),(0.03,0.62),(0.11,0.60),(0.23,0.58),(0.04,0.47),(0.16,0.45),(0.28,0.44),(0.03,0.31),(0.15,0.29),(0.06,0.16),(0.19,0.14),(0.12,0.01),
         (0.08,2.15),(0.38,2.17),(0.62,2.13),(0.9,2.15),(1.2,2.12),(1.5,2.05),(0.15,1.99),(0.42,1.98),(0.7,1.97),(0.98,1.98),(1.28,1.93),(1.58,1.9),(0.1,1.85),(0.38,1.83),(0.65,1.82),(0.93,1.81),(1.2,1.8),(1.5,1.77),(0.05,1.71),(0.32,1.70),(0.6,1.68),(0.88,1.67),(1.15,1.66),(1.43,1.63),(1.7,1.6),(0.18,1.56),(0.45,1.55),(0.75,1.54),(1.02,1.53),(1.3,1.52),(1.58,1.5)]

eps_8 = [(-0.74,3.0),(-0.42,2.67),(-0.32,2.69),(-0.2,2.53),(0.09,2.71),(-0.02,2.55),(0.38,2.62),(0.88,2.65),(1.31,2.79),(0.25,2.55),(0.45,2.55),(0.3,2.45),(1.15,2.3),(1.7,2.45),(1.45,2.35),
         (-0.1,2.4),(0.02,2.42),(0.15,2.38),(-0.12,2.3),(0.0,2.3),(0.1,2.32),(0.2,2.28),(-0.08,2.2),(0.05,2.18),(0.15,2.2),(0.25,2.17),(-0.12,2.1),(-0.02,2.08),(0.08,2.1),(0.18,2.07),(-0.1,2.0),(0.0,1.98),(0.1,2.0),(0.2,1.97),(0.3,2.02),(-0.13,1.9),(-0.03,1.88),(0.07,1.9),(0.17,1.87),(0.27,1.9),(-0.1,1.8),(0.0,1.78),(0.1,1.8),(0.2,1.77),(-0.12,1.7),(-0.02,1.68),(0.08,1.7),(0.18,1.67),(0.28,1.65),(-0.08,1.6),(0.02,1.58),(0.12,1.6),(0.22,1.57),(-0.1,1.5),(0.0,1.48),(0.1,1.5),(0.2,1.47),(-0.12,1.4),(-0.02,1.38),(0.08,1.4),(0.18,1.37),(0.3,1.4),(-0.08,1.3),(0.02,1.28),(0.12,1.3),(0.22,1.27),(-0.1,1.2),(0.0,1.18),(0.1,1.2),(0.2,1.17),(-0.07,1.1),(0.03,1.08),(0.13,1.1),(0.23,1.07),(-0.1,1.0),(0.0,0.98),(0.1,1.0),(0.2,0.97),(0.33,1.0),(-0.05,0.9),(0.05,0.88),(0.15,0.9),(0.25,0.87),(-0.08,0.8),(0.02,0.78),(0.12,0.8),(0.22,0.77),(-0.05,0.7),(0.05,0.68),(0.15,0.7),(0.4,0.7),(-0.08,0.6),(0.02,0.58),(0.12,0.6),(0.22,0.57),(-0.05,0.5),(0.05,0.48),(0.15,0.5),(-0.07,0.4),(0.03,0.38),(0.13,0.4),(0.23,0.37),(-0.03,0.3),(0.07,0.28),(0.17,0.3),(0.0,0.2),(0.1,0.18),(0.2,0.2),(0.05,0.1),(0.15,0.08),(0.08,0.0),(-0.07,-0.05),(0.0,-0.05),(0.1,-0.08),
         (-0.05,2.25),(0.12,2.12),(-0.06,1.95),(0.15,1.82),(-0.05,1.75),(0.05,1.63),(0.15,1.53),(-0.05,1.45),(0.05,1.35),(0.15,1.25),(-0.05,1.15),(0.06,1.05),(0.16,0.95),(-0.02,0.85),(0.08,0.72),(0.18,0.65),(0.0,0.55),(0.1,0.45),(0.0,0.35),(0.12,0.25),
         (0.4,1.9),(0.45,1.75),(0.35,1.6),(0.5,1.45),(0.38,1.3),(0.55,1.25),(0.45,1.1),(0.6,1.0),(0.5,0.85),(0.42,0.5),(0.55,0.35),(0.65,0.3),(0.7,0.45),(0.48,2.05),
         (1.05,2.05),(1.15,2.1),(1.25,2.12),(1.35,2.08),(1.45,2.15),(1.55,2.12),(1.65,2.1),(1.75,2.05),(1.85,2.0),(1.95,1.98),(1.1,1.95),(1.2,1.98),(1.3,1.95),(1.4,2.0),(1.5,1.97),(1.6,2.0),(1.7,1.95),(1.8,1.92),(1.9,1.88),(1.0,1.85),(1.12,1.85),(1.22,1.88),(1.32,1.85),(1.42,1.88),(1.52,1.85),(1.62,1.87),(1.72,1.84),(1.82,1.8),(0.9,1.75),(1.05,1.75),(1.15,1.72),(1.25,1.76),(1.35,1.73),(1.45,1.76),(1.55,1.73),(1.65,1.75),(1.75,1.7),(1.85,1.68),(0.85,1.6),(0.98,1.63),(1.1,1.6),(1.2,1.65),(1.3,1.6),(1.4,1.63),(1.5,1.6),(1.6,1.62),(1.7,1.58),(1.8,1.55),(0.75,1.52),(0.9,1.55),(1.5,1.68),(1.45,1.95),(1.62,1.8),
         (0.72,1.4),(0.85,1.45),(0.98,1.42),(1.1,1.45),(1.22,1.4),(1.35,1.43),(1.48,1.42),(1.6,1.38),(1.7,1.35),(0.8,1.3),(0.95,1.3),(1.08,1.32),(1.2,1.28),(1.32,1.3),(1.45,1.28),(1.58,1.25),(0.7,1.2),(0.88,1.18),(1.0,1.2),(1.12,1.15),(1.25,1.18),(1.38,1.15),(1.5,1.12),(1.65,1.15),(0.78,1.05),(0.92,1.05),(1.05,1.07),(1.18,1.02),(1.3,1.05),(1.42,1.0),(1.55,1.0),(0.85,0.92),(1.0,0.9),(1.12,0.93),(1.25,0.9),(1.38,0.88),(1.5,0.85),(0.75,0.8),(0.9,0.78),(1.05,0.8),(1.18,0.75),(1.3,0.78),(1.42,0.72),(0.85,0.65),(1.0,0.62),(1.15,0.65),(1.28,0.6),(1.38,0.55),(0.95,0.5),(1.1,0.48),(1.25,0.45),(0.8,0.38),(1.05,0.35),(0.7,0.25),(0.9,0.3),
         (-0.05,2.35),(0.05,2.25),(0.17,2.24),(-0.07,2.14),(0.03,2.13),(0.13,2.15),(-0.05,2.04),(0.05,2.03),(0.15,2.04),(-0.08,1.94),(0.02,1.93),(0.12,1.95),(0.22,1.93),(-0.05,1.84),(0.05,1.84),(0.15,1.85),(-0.07,1.74),(0.03,1.73),(0.13,1.75),(0.23,1.72),(-0.03,1.64),(0.07,1.64),(0.17,1.62),(-0.05,1.54),(0.05,1.53),(0.15,1.55),(-0.07,1.44),(0.03,1.43),(0.13,1.45),(0.25,1.43),(-0.03,1.34),(0.07,1.33),(0.17,1.35),(-0.05,1.24),(0.05,1.23),(0.15,1.22),(-0.02,1.14),(0.08,1.13),(0.18,1.14),(-0.05,1.04),(0.05,1.03),(0.15,1.04),(0.0,0.94),(0.1,0.93),(0.2,0.92),(-0.03,0.84),(0.07,0.83),(0.17,0.84),(0.0,0.74),(0.1,0.73),(0.2,0.72),(-0.03,0.64),(0.07,0.63),(0.17,0.64),(0.0,0.53),(0.1,0.54),(0.2,0.53),(-0.02,0.44),(0.08,0.43),(0.18,0.44),(0.02,0.33),(0.12,0.34),(0.05,0.24),(0.15,0.23),(0.1,0.12),
         (1.08,2.0),(1.18,2.03),(1.28,2.01),(1.38,2.04),(1.48,2.05),(1.58,2.06),(1.68,2.03),(1.78,1.99),(1.88,1.94),(1.05,1.9),(1.16,1.91),(1.26,1.92),(1.36,1.9),(1.47,1.92),(1.57,1.92),(1.67,1.9),(1.77,1.88),(0.95,1.8),(1.08,1.8),(1.18,1.81),(1.28,1.8),(1.38,1.81),(1.5,1.8),(1.6,1.79),(1.7,1.79),(1.8,1.74),(0.92,1.68),(1.02,1.69),(1.13,1.67),(1.23,1.7),(1.33,1.67),(1.43,1.69),(1.53,1.66),(1.63,1.68),(1.73,1.64),(0.8,1.57),(0.95,1.58),(1.05,1.56),(1.15,1.55),(1.25,1.57),(1.35,1.55),(1.45,1.56),(1.55,1.55),(1.65,1.53),(0.78,1.46),(0.92,1.48),(1.04,1.47),(1.16,1.42),(1.28,1.46),(1.41,1.48),(1.54,1.46),(1.65,1.42),(0.86,1.36),(1.01,1.36),(1.14,1.36),(1.27,1.35),(1.39,1.37),(1.52,1.34),(0.76,1.25),(0.93,1.24),(1.06,1.26),(1.19,1.23),(1.31,1.24),(1.44,1.22),(0.84,1.11),(0.97,1.12),(1.09,1.1),(1.22,1.1),(1.35,1.1),(1.46,1.06),(0.9,0.98),(1.06,0.97),(1.2,0.96),(1.33,0.95),(0.82,0.86),(0.96,0.85),(1.12,0.85),(1.24,0.83),(0.88,0.71),(1.1,0.7),(1.22,0.68),(0.93,0.57),(1.2,0.55)]

eps_9 = [(-0.16,2.75),(-0.23,2.5),(-0.15,2.48),(-0.08,2.44),(-0.01,2.5),(0.02,2.4),(-0.12,2.12),(-0.05,2.2),(0.05,2.18),(0.12,2.2),(0.2,2.1),(0.35,2.1),(0.48,2.0),(-0.1,2.0),(0.0,2.02),(0.08,1.98),(0.18,1.95),(-0.08,1.88),(0.02,1.9),(0.12,1.85),(0.25,1.85),(-0.05,1.78),(0.05,1.75),(0.15,1.75),(-0.1,1.68),(0.0,1.65),(0.1,1.65),(0.22,1.6),(-0.03,1.55),(0.07,1.55),(0.17,1.52),(0.0,1.45),(0.12,1.45),(0.05,1.35),(0.15,1.32),(0.02,1.25),(0.12,1.2),(0.07,1.1),(0.45,1.15),(0.2,1.05),(0.05,0.95),(0.15,0.92),(0.02,0.8),(0.12,0.75),(0.25,0.6),(-0.05,0.55),(0.05,0.45),(0.15,0.4),(0.0,0.3),(0.1,0.25),(0.05,0.12),(0.17,0.05),(0.05,0.0),
         (0.77,2.82),(1.43,2.68),(1.63,2.42),(1.18,2.05),(1.15,2.2),(1.3,1.95),(1.4,2.0),(1.47,2.12),(1.55,2.15),(1.6,2.05),(1.7,1.98),(1.8,2.0),(1.25,1.85),(1.35,1.88),(0.85,1.78),(1.0,1.7),(1.18,1.62),(1.35,1.6),(1.5,1.62),(1.6,1.72),(1.55,1.55),(0.97,1.5),(1.2,1.45),(1.3,1.48),(1.45,1.48),(1.4,1.35),(1.52,1.28),(1.2,1.35),(1.3,1.2),(1.42,1.2),(1.55,1.32),(1.6,1.15),(1.07,1.18),(1.25,1.05),(1.4,1.05),(1.5,1.0),(1.35,0.95),(1.25,0.78),(1.45,0.85),(1.38,0.7),(0.65,0.6),(0.75,0.35),(0.98,0.38),(1.0,0.3),(1.3,1.55),(1.78,1.35)]

eps_10 = [(-0.45,2.87),(-0.38,2.88),(-0.3,2.86),(-0.22,2.85),(-0.15,2.83),(0.0,2.85),(0.1,2.86),(-0.42,2.8),(-0.35,2.78),(-0.28,2.8),(-0.2,2.77),(-0.12,2.78),(-0.05,2.8),(0.05,2.79),(-0.38,2.72),(-0.3,2.7),(-0.22,2.72),(-0.15,2.7),(-0.08,2.72),(0.0,2.7),(0.1,2.68),(-0.32,2.62),(-0.25,2.64),(-0.18,2.62),(-0.1,2.6),(-0.02,2.62),(0.06,2.6),(0.25,2.65),(-0.28,2.55),(-0.2,2.53),(-0.12,2.55),(-0.05,2.52),(0.03,2.54),(0.12,2.5),(0.35,2.55),(0.5,2.6),(-0.15,2.45),(-0.08,2.43),(0.0,2.45),(0.08,2.42),(0.15,2.45),(0.22,2.4),(0.55,2.45),(0.52,3.0),(-0.1,2.35),(-0.02,2.33),(0.05,2.35),(0.12,2.3),(0.2,2.32),(0.3,2.25),
          (-0.08,2.25),(0.0,2.22),(0.08,2.25),(0.16,2.2),(0.25,2.15),(-0.05,2.12),(0.03,2.1),(0.1,2.13),(0.18,2.08),(-0.02,2.0),(0.06,1.98),(0.14,2.0),(0.22,1.95),(0.42,1.95),(0.0,1.88),(0.08,1.86),(0.16,1.88),(0.25,1.85),(-0.03,1.78),(0.05,1.75),(0.13,1.77),(0.2,1.72),(0.43,1.82),(0.0,1.65),(0.08,1.63),(0.16,1.66),(0.45,1.6),(-0.03,1.55),(0.05,1.52),(0.13,1.55),(0.22,1.5),(0.3,1.45),(0.0,1.42),(0.08,1.38),(0.17,1.4),(0.03,1.28),(0.12,1.25),(0.2,1.3),(-0.02,1.15),(0.07,1.12),(0.15,1.15),(0.05,1.02),(0.13,0.98),(0.22,1.0),(0.52,1.0),(-0.02,0.88),(0.08,0.85),(0.17,0.82),(0.03,0.72),(0.12,0.7),(-0.1,0.55),(0.0,0.52),(0.1,0.5),(0.2,0.52),(0.4,0.5),(-0.02,0.38),(0.08,0.35),(0.18,0.38),(-0.03,0.25),(0.05,0.22),(0.15,0.25),(0.0,0.12),(0.1,0.15),
          (1.0,2.1),(1.35,2.25),(1.45,2.35),(1.55,2.3),(1.65,2.22),(1.62,2.35),(1.75,2.25),(1.85,2.15),(1.9,2.2),(1.4,2.15),(1.5,2.1),(1.6,2.12),(1.7,2.08),(1.82,2.05),(1.95,2.08),(1.15,1.95),(1.25,1.98),(1.35,1.92),(1.45,1.95),(1.55,1.9),(1.65,1.95),(1.75,1.9),(1.85,1.88),(0.95,1.85),(1.05,1.82),(1.2,1.8),(1.5,1.8),(1.6,1.75),(1.72,1.78),(1.82,1.75),(1.9,1.72),(1.5,1.65),(1.6,1.62),(1.7,1.65),(1.8,1.6),(1.45,1.55),(1.55,1.52),(1.65,1.5),(1.75,1.53),(1.85,1.5),(1.95,1.52),(1.35,1.5),(1.5,1.45),(1.6,1.42),(1.7,1.45),(1.8,1.4),(1.9,1.42),(1.15,1.42),(1.25,1.45),(1.4,1.38),(1.55,1.35),(1.65,1.32),(1.75,1.35),(1.85,1.3),(1.3,1.3),(1.45,1.28),(1.6,1.25),(1.7,1.2),(1.8,1.22),(1.0,1.25),(1.15,1.2),(1.3,1.18),(1.5,1.15),(1.65,1.12),(1.2,1.1),(1.4,1.08),(1.55,1.05),(0.6,0.85),(0.9,0.95),(1.0,1.05),(0.72,1.5),(0.45,1.3),
          (-0.42,2.84),(-0.34,2.83),(-0.26,2.83),(-0.18,2.8),(-0.09,2.82),(0.02,2.82),(-0.35,2.75),(-0.27,2.74),(-0.19,2.75),(-0.11,2.74),(-0.03,2.76),(0.07,2.74),(-0.29,2.67),(-0.21,2.67),(-0.13,2.66),(-0.05,2.67),(0.03,2.65),(-0.24,2.58),(-0.16,2.58),(-0.08,2.57),(0.0,2.58),(0.09,2.56),(-0.18,2.49),(-0.1,2.48),(-0.02,2.49),(0.06,2.47),(0.17,2.5),(-0.06,2.39),(0.03,2.39),(0.1,2.37),(0.18,2.38),(-0.04,2.29),(0.04,2.28),(0.12,2.27),(0.2,2.27),(0.02,2.17),(0.12,2.18),(0.2,2.14),(0.0,2.05),(0.1,2.05),(0.18,2.03),(0.04,1.93),(0.12,1.92),(0.2,1.9),(0.02,1.82),(0.1,1.8),(0.17,1.8),(0.04,1.7),(0.12,1.7),(0.02,1.6),(0.1,1.58),(0.04,1.47),(0.13,1.46),(0.04,1.35),(0.13,1.33),(0.0,1.22),(0.1,1.2),(0.02,1.08),(0.1,1.06),(0.05,0.93),(0.12,0.9),(0.04,0.78),(0.15,0.76),(0.05,0.62),(0.14,0.6),(0.03,0.45),(0.13,0.44),(0.05,0.3),
          (1.45,2.2),(1.58,2.18),(1.7,2.15),(1.8,2.1),(1.3,2.05),(1.42,2.03),(1.55,2.02),(1.67,2.01),(1.78,1.98),(1.88,1.95),(1.3,1.87),(1.42,1.86),(1.55,1.84),(1.66,1.85),(1.78,1.83),(1.88,1.8),(1.4,1.75),(1.55,1.72),(1.65,1.69),(1.76,1.68),(1.86,1.65),(1.42,1.62),(1.55,1.59),(1.65,1.57),(1.76,1.57),(1.88,1.56),(1.4,1.45),(1.55,1.42),(1.65,1.38),(1.76,1.42),(1.85,1.38),(1.35,1.38),(1.48,1.35),(1.6,1.33),(1.7,1.3),(1.8,1.3),(1.4,1.23),(1.55,1.22),(1.65,1.2),(1.25,1.25),(1.38,1.15),(1.45,1.1)]

CTRL_EVENTS = [ctrl_1, ctrl_2, ctrl_3, ctrl_4, ctrl_5, ctrl_6, ctrl_7, ctrl_8, ctrl_9, ctrl_10]
EPS_EVENTS = [eps_1, eps_2, eps_3, eps_4, eps_5, eps_6, eps_7, eps_8, eps_9, eps_10]
CTRL_PCT = ["9.30", "0", "0", "28.2", "1.40", "0", "1.03", "4.30", "8.25", "1.24"]
EPS_PCT = ["30.0", "15.9", "9.80", "6.98", "0", "28.0", "50.1", "25.7", "15.6", "16.7"]

GATE_TET = (0.64, 2.48)     # tetramer+ CD39- gate, display decades
GATE_CD39 = (-0.87, 1.51)

# axis labels as (value, mantissa, exponent)
X_TICKS = [(0, "0", None), (1e3, "10", "3"), (1e4, "10", "4")]
Y_TICKS = [(-1e3, "-10", "3"), (0, "0", None), (1e3, "10", "3"), (1e4, "10", "4"), (1e5, "10", "5")]


# ---- Biexponential axes ------------------------------------------------------

W, H, DPI = 4466, 2544, 200
PANEL = 500                                   # panel size, px
DEC_VALUES = np.array([-1e3, 0, 1e3, 1e4, 1e5])
X_POS = [-12, 109, 230, 378.4, 526.8]         # where -10^3, 0, 10^3, 10^4, 10^5 sit (px)
Y_POS = [33, 115.5, 196.8, 333.3, 453.5]


def lmod(v):
    v = np.asarray(v, dtype=float)
    return np.sign(v) * np.log10(1 + np.abs(v) / 100)


def lmod_inv(u):
    u = np.asarray(u, dtype=float)
    return np.sign(u) * 100 * (10 ** np.abs(u) - 1)


DEC_U = lmod(DEC_VALUES)


def extend(a, b):
    a = np.asarray(a, dtype=float)
    b = np.asarray(b, dtype=float)
    lo = (b[1] - b[0]) / (a[1] - a[0])
    hi = (b[-1] - b[-2]) / (a[-1] - a[-2])
    return np.r_[a[0] - 10, a, a[-1] + 10], np.r_[b[0] - 10 * lo, b, b[-1] + 10 * hi]


def from_decades(t):
    a, b = extend([-1, 0, 1, 2, 3], DEC_U)
    return lmod_inv(np.interp(t, a, b))


def biex_functions(pos):
    u_ext, p_ext = extend(DEC_U, pos)
    fwd = lambda v: np.interp(lmod(v), u_ext, p_ext)
    inv = lambda p: lmod_inv(np.interp(p, p_ext, u_ext))
    return fwd, inv


X_FUN = biex_functions(X_POS)
Y_FUN = biex_functions(Y_POS)

MINOR = ([s * m * 10 for s in (1, -1) for m in (1, 2, 3, 4)]
         + [s * m * 100 for s in (1, -1) for m in range(1, 10)]
         + [s * m * 10 ** k for s in (1, -1) for k in (3, 4) for m in range(2, 10)]
         + [2e5, 3e5])


# ---- Plotting ----------------------------------------------------------------

sns.set_theme(style="white")
plt.rcParams["font.family"] = ["Liberation Sans", "DejaVu Sans"]
plt.rcParams.update({
    "mathtext.fontset": "custom",
    "mathtext.rm": "Liberation Sans",
    "mathtext.it": "Liberation Sans:italic",
    "mathtext.bf": "Liberation Sans:bold",
})

GATE_COLOR = "#3c0f7d"
TICK_FONT = dict(family="DejaVu Sans", fontweight="bold", color="black", clip_on=False)
COL_LEFT = [1457.7 + 629.85 * j for j in range(5)]
ROW_TOP = [-9, 592, 1230, 1832.6]

fig = plt.figure(figsize=(W / DPI, H / DPI), dpi=DPI)
labels = []


def tick_text(ax, x, y, s, base, dx, dy, size, **kw):
    tr = offset_copy(base, fig=ax.figure, x=dx, y=dy, units="dots")
    ax.text(x, y, s, transform=tr, fontsize=size, **TICK_FONT, **kw)


def draw_panel(ax, events, pct, dot_color, frame_color):
    tet, cd39 = zip(*events)
    df = pd.DataFrame({"tet": from_decades(tet), "cd39": from_decades(cd39)})

    ax.set_xscale("function", functions=X_FUN)
    ax.set_yscale("function", functions=Y_FUN)

    gx0, gx1 = from_decades(GATE_TET)
    gy0, gy1 = from_decades(GATE_CD39)
    ax.plot([gx0, gx1, gx1, gx0, gx0], [gy1, gy1, gy0, gy0, gy1], color=GATE_COLOR,
            lw=2.3, solid_joinstyle="miter", zorder=2)

    sns.scatterplot(data=df, x="tet", y="cd39", marker="s", s=8, color=dot_color,
                    linewidth=0, ax=ax, zorder=3, legend=False)
    ax.set_xlabel("")
    ax.set_ylabel("")

    # ticks first (set_ticks may widen the view), limits afterwards
    ax.set_xticks(MINOR, minor=True)
    ax.set_yticks(MINOR, minor=True)
    ax.set_xticks([v for v, _, _ in X_TICKS])
    ax.set_yticks([v for v, _, _ in Y_TICKS])
    ax.set_xlim(X_FUN[1](0), X_FUN[1](PANEL))
    ax.set_ylim(Y_FUN[1](0), Y_FUN[1](PANEL))

    ax.tick_params(axis="x", which="major", bottom=True, labelbottom=False, direction="out",
                   length=5, width=0.9, color="black")
    ax.tick_params(axis="y", which="major", left=True, labelleft=False, direction="out",
                   length=4, width=0.9, color="black")
    ax.tick_params(axis="both", which="minor", bottom=True, left=True, direction="out",
                   length=2.2, width=0.7, color="black")

    # FlowJo-style labels with large exponents
    bx = blended_transform_factory(ax.transData, ax.transAxes)
    by = blended_transform_factory(ax.transAxes, ax.transData)
    for v, mant, exp in X_TICKS:
        if exp is None:
            tick_text(ax, v, 0, mant, bx, 0, -79.5, 14.5, ha="center", va="baseline")
        else:
            tick_text(ax, v, 0, mant, bx, -14, -79.5, 14.5, ha="left", va="baseline")
            tick_text(ax, v, 0, exp, bx, 38, -45, 13.3, ha="left", va="baseline")
    for v, mant, exp in Y_TICKS:
        if exp is None:
            tick_text(ax, 0, v, mant, by, -48.5, -26, 14.5, ha="right", va="baseline")
        else:
            tick_text(ax, 0, v, mant, by, -48.5, -35, 14.5, ha="right", va="baseline")
            tick_text(ax, 0, v, exp, by, -45, 0, 13.3, ha="left", va="baseline")

    for spine in ax.spines.values():
        spine.set_color(frame_color)
        spine.set_linewidth(0.8)
    ax.grid(False)

    txt = ax.text(0.75, 69.5 / PANEL, pct, transform=ax.transAxes, ha="center",
                  va="baseline", fontsize=33.5, color="black", zorder=5)
    labels.append((ax, txt))


for g, (events, pcts, dot, frame) in enumerate([
        (CTRL_EVENTS, CTRL_PCT, "#0000ff", "#2020ee"),
        (EPS_EVENTS, EPS_PCT, "#ff00ff", "#9c2c9c")]):
    for i in range(10):
        r, c = 2 * g + i // 5, i % 5
        ax = fig.add_axes([COL_LEFT[c] / W, 1 - (ROW_TOP[r] + PANEL) / H, PANEL / W, PANEL / H])
        draw_panel(ax, events[i], pcts[i], dot, frame)

# white box behind each gate frequency, hiding the gate corner as in FlowJo
fig.canvas.draw()
renderer = fig.canvas.get_renderer()
k = fig.dpi / 200
for ax, txt in labels:
    bb = txt.get_window_extent(renderer)
    base = ax.transAxes.transform((0, 69.5 / PANEL))[1]
    (x0, y0), (x1, y1) = ax.transAxes.inverted().transform(
        [(bb.x0 - 4 * k, base - 35 * k), (bb.x1 + 4 * k, base + 122 * k)])
    ax.add_patch(Rectangle((x0, y0), x1 - x0, y1 - y0, transform=ax.transAxes,
                           facecolor="white", edgecolor="none", zorder=2.5))

# ---- Annotations -------------------------------------------------------------

def fx(x):
    return x / W


def fy(y):
    return 1 - y / H


fig.text(fx(623), fy(108), "4T1-HA single cell suspension", ha="center", va="baseline", fontsize=30.5)
fig.text(fx(623), fy(211), "gated on CD8 TILs", ha="center", va="baseline", fontsize=30.5)

fig.text(fx(864), fy(485), "aCTLA-4 mAb", ha="center", va="baseline", fontsize=34.5, color="#0070c0")
fig.text(fx(864), fy(600), "/ Cont", ha="center", va="baseline", fontsize=34.5, color="#0070c0")
fig.text(fx(864), fy(680), r"($\mathit{n}$=10)", ha="center", va="baseline", fontsize=19)

fig.text(fx(864), fy(1734), "aCTLA-4 mAb", ha="center", va="baseline", fontsize=34.5, color="#7030a0")
fig.text(fx(856), fy(1853), "/ EPS-R1", ha="center", va="baseline", fontsize=34.5, color="#7030a0")
fig.text(fx(864), fy(1929), r"($\mathit{n}$=10)", ha="center", va="baseline", fontsize=19)

fig.text(fx(1265), fy(608), "CD39 (PE-Cy7)", rotation=90, ha="center", va="bottom", fontsize=31.5)
fig.text(fx(3526), fy(2528), r"H-2$\mathrm{K^d}$ HA Tetramer (PE)", ha="left", va="baseline", fontsize=30.5)

frame = fig.add_axes([0, 0, 1, 1])
frame.set_xlim(0, W)
frame.set_ylim(H, 0)
frame.set_axis_off()
frame.plot([1264, 1264, 3472], [668, 2494, 2494], color="black", lw=2.2, solid_joinstyle="miter")
frame.add_patch(Polygon([(1264, 631), (1246, 670), (1282, 670)], closed=True, color="black"))
frame.add_patch(Polygon([(3506, 2494), (3468, 2476), (3468, 2512)], closed=True, color="black"))
frame.plot([1264, W], [1197, 1197], color="black", lw=1.4)

fig.savefig("out.png", dpi=DPI)
